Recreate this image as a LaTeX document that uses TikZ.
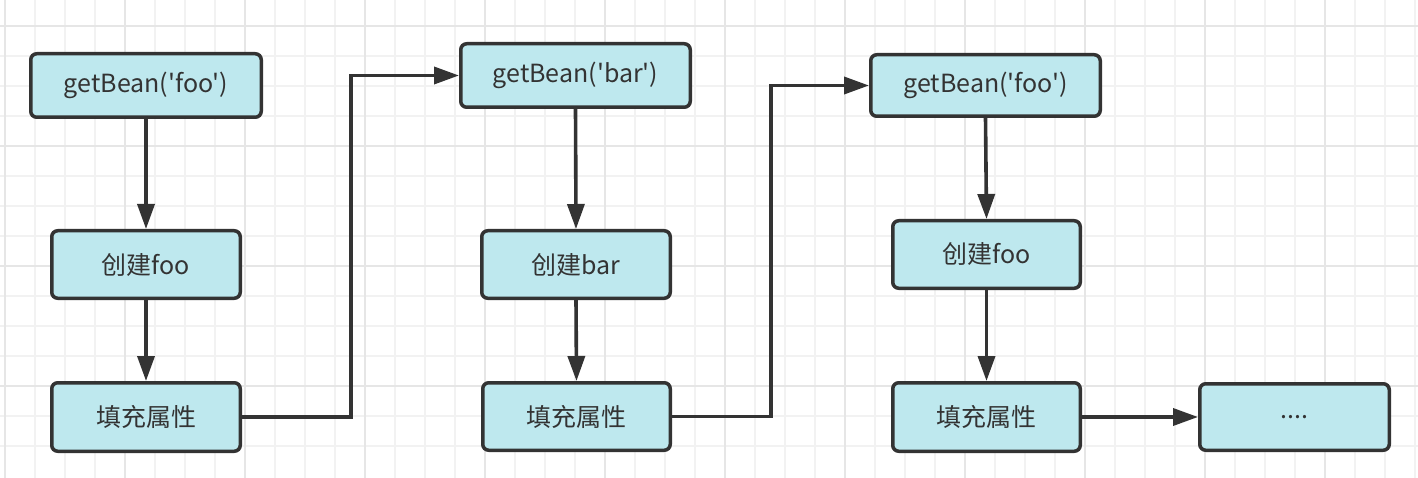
\documentclass[tikz,border=0pt]{standalone}
\usepackage{fontspec}
\setmainfont{Noto Sans CJK SC}[Ligatures=TeXOff]
\usetikzlibrary{arrows.meta}
\definecolor{gridminor}{RGB}{242,242,242}
\definecolor{gridmajor}{RGB}{230,230,230}
\definecolor{boxfill}{RGB}{190,232,238}
\definecolor{ink}{RGB}{51,51,51}
\tikzset{
  box/.style={draw=ink, fill=boxfill, line width=3.5pt, rounded corners=6pt,
    text=ink, font=\fontsize{25}{30}\selectfont, inner sep=0pt},
  arr/.style={draw=ink, line width=3.6pt, -{Triangle[length=25pt,width=17pt]}}
}
\begin{document}
\begin{tikzpicture}[x=1pt,y=-1pt]
\useasboundingbox (0,0) rectangle (1418,478);
\fill[white] (0,0) rectangle (1418,478);
% grid
\foreach \i in {0,...,47} {
  \pgfmathtruncatemacro{\gx}{5+30*\i}
  \draw[gridminor, line width=1.2pt] (\gx,0) -- (\gx,478);
}
\foreach \j in {0,...,15} {
  \pgfmathtruncatemacro{\gy}{-4+30*\j}
  \draw[gridminor, line width=1.2pt] (0,\gy) -- (1418,\gy);
}
\foreach \i in {0,...,11} {
  \pgfmathtruncatemacro{\gx}{5+120*\i}
  \draw[gridmajor, line width=1.4pt] (\gx,0) -- (\gx,478);
}
\foreach \j in {0,...,3} {
  \pgfmathtruncatemacro{\gy}{26+120*\j}
  \draw[gridmajor, line width=1.4pt] (0,\gy) -- (1418,\gy);
}
% boxes
\node[box, minimum width=230.5pt, minimum height=63.5pt] (b1) at (146,85.5) {getBean('foo')};
\node[box, minimum width=188.5pt, minimum height=67.5pt] (b2) at (146,264.5) {创建foo};
\node[box, minimum width=188.5pt, minimum height=68.5pt] (b3) at (146,417) {填充属性};
\node[box, minimum width=229.5pt, minimum height=63.5pt] (b4) at (575.5,75.5) {getBean('bar')};
\node[box, minimum width=188.5pt, minimum height=67.5pt] (b5) at (576,264.5) {创建bar};
\node[box, minimum width=187.5pt, minimum height=67.5pt] (b6) at (576.5,416.5) {填充属性};
\node[box, minimum width=229.5pt, minimum height=61.5pt] (b7) at (985.5,85.5) {getBean('foo')};
\node[box, minimum width=187.5pt, minimum height=67.5pt] (b8) at (986.5,254.5) {创建foo};
\node[box, minimum width=187.5pt, minimum height=68.5pt] (b9) at (986.5,417) {填充属性};
\node[box, minimum width=189.5pt, minimum height=66.5pt] (b10) at (1294.5,417) {....};
% bend coordinates
\coordinate (k1) at (351,0);
\coordinate (k2) at (771,0);
% connectors
\draw[arr] (b1.south) -- (b2.north);
\draw[arr] (b2.south) -- (b3.north);
\draw[arr] (b4.south) -- (b5.north);
\draw[arr] (b5.south) -- (b6.north);
\draw[arr] (b7.south) -- (b8.north);
\draw[arr] (b8.south) -- (b9.north);
\draw[arr] (b3.east) -- (b3.east -| k1) -- (k1 |- b4.west) -- (b4.west);
\draw[arr] (b6.east) -- (b6.east -| k2) -- (k2 |- b7.west) -- (b7.west);
\draw[arr] (b9.east) -- (b10.west);
\end{tikzpicture}
\end{document}
